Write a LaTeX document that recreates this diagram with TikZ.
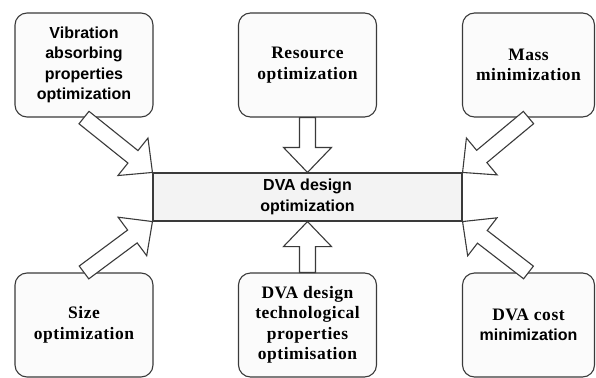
\documentclass[tikz,border=0pt]{standalone}
\usepackage{fontspec}
\setmainfont{Liberation Serif}[LetterSpace=3]
\newfontfamily\arialfont{Liberation Sans}
\usetikzlibrary{calc}

\definecolor{edgegray}{RGB}{58,58,58}
\definecolor{boxfill}{RGB}{251,251,251}
\definecolor{mainfill}{RGB}{243,243,243}

\newcommand{\serifgoal}{\fontsize{17.5}{20.5}\selectfont\bfseries}
\newcommand{\sansgoal}{\fontsize{16}{20.5}\selectfont\arialfont\bfseries}

\tikzset{
  goalbox/.style={draw=edgegray, fill=boxfill, rounded corners=12pt,
    minimum width=138pt, minimum height=104pt, inner sep=0pt, align=center,
    font=\serifgoal},
  mainbox/.style={draw=edgegray, fill=mainfill, minimum width=309pt,
    minimum height=48pt, inner sep=0pt, align=center, font=\sansgoal},
  blockarrow/.style={draw=edgegray, fill=white, line join=miter}
}

% hollow arrow: name, from, to
\newcommand{\hollowarrow}[3]{%
  \coordinate (#1-t) at (#2);
  \coordinate (#1-h) at ($(#3)!25pt!(#2)$);
  \draw[blockarrow] ($(#1-t)!8pt!90:(#3)$) -- ($(#1-h)!8pt!90:(#3)$)
    -- ($(#1-h)!24pt!90:(#3)$) -- (#3) -- ($(#1-h)!24pt!-90:(#3)$)
    -- ($(#1-h)!8pt!-90:(#3)$) -- ($(#1-t)!8pt!-90:(#3)$) -- cycle;}

\begin{document}
\begin{tikzpicture}[x=1pt, y=-1pt, line width=1.1pt]
\useasboundingbox (0,0) rectangle (596,377);

\path
  node[goalbox, font=\sansgoal] (vib) at (84,65) {Vibration\\absorbing\\properties\\optimization}
  node[goalbox] (res) at (307.5,65) {Resource\\optimization}
  node[goalbox, minimum width=132pt] (mass) at (528.5,65) {Mass\\minimization}
  node[mainbox] (dva) at (307.5,197) {DVA design\\optimization}
  node[goalbox] (size) at (84,325) {Size\\optimization}
  node[goalbox] (tech) at (307.5,325) {DVA design\\technological\\properties\\optimisation}
  node[goalbox, minimum width=132pt] (cost) at (528.5,325) {DVA cost\\{\sansgoal minimization}};

\begin{scope}
  % Entrada arriba
  \hollowarrow{a1}{vib.south}{dva.north west}
  \hollowarrow{a2}{res.south}{dva.north}
  \hollowarrow{a3}{mass.south}{dva.north east}
  % Entrada abajo
  \hollowarrow{a4}{size.north}{dva.south west}
  \hollowarrow{a5}{tech.north}{dva.south}
  \hollowarrow{a6}{cost.north}{dva.south east}
\end{scope}

\end{tikzpicture}
\end{document}
